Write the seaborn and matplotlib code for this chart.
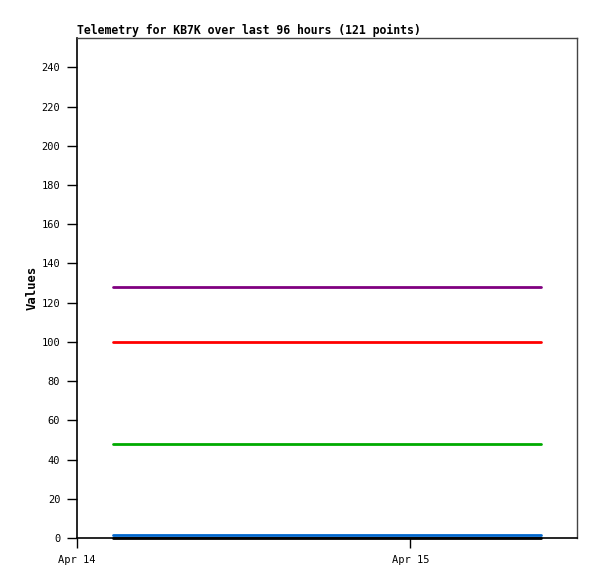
import matplotlib
matplotlib.use("Agg")
import matplotlib.pyplot as plt
import matplotlib.dates as mdates
import seaborn as sns
import pandas as pd

# Data
times = ["2024-04-14 02:36", "2024-04-15 09:24"]
series_names = ["s1", "s2", "s3", "s4", "s5"]
series_values = [[128, 128], [100, 100], [48, 48], [1.7, 1.7], [0, 0]]
series_colors = ["#800080", "#ff0000", "#00aa00", "#0066cc", "#000000"]
title = "Telemetry for KB7K over last 96 hours (121 points)"
ylabel = "Values"

rows = []
for name, vals in zip(series_names, series_values):
    for t, v in zip(times, vals):
        rows.append({"time": pd.Timestamp(t), "value": v, "series": name})
df = pd.DataFrame(rows)

sns.set_style("white")
plt.rcParams["font.family"] = ["DejaVu Sans Mono"]
plt.rcParams["text.color"] = "black"
plt.rcParams["axes.labelcolor"] = "black"

fig = plt.figure(figsize=(5.97, 5.79), dpi=100)
ax = fig.add_axes([77/597, 41/579, 500/597, 500/579])

sns.lineplot(data=df, x="time", y="value", hue="series",
             palette=dict(zip(series_names, series_colors)),
             linewidth=2, legend=False, ax=ax)
for ln in ax.lines:
    ln.set_clip_on(False)
    ln.set_zorder(5)

ax.set_xlim(pd.Timestamp("2024-04-14 00:00"), pd.Timestamp("2024-04-15 12:00"))
ax.set_ylim(0, 255)
ax.set_yticks(range(0, 241, 20))
ax.xaxis.set_major_locator(mdates.DayLocator())
ax.xaxis.set_major_formatter(mdates.DateFormatter("%b %d"))
ax.tick_params(axis="both", direction="out", length=7, width=1, labelsize=7.5,
               colors="black", left=True, bottom=True)
ax.tick_params(axis="y", pad=5)
ax.tick_params(axis="x", pad=5)
ax.set_xlabel("")
ax.set_ylabel(ylabel, fontsize=8.8, fontweight="bold", color="black", labelpad=2)
ax.set_title(title, fontsize=8.3, fontweight="bold", loc="left", pad=3, color="black")

for s in ["left", "bottom"]:
    ax.spines[s].set_color("black")
    ax.spines[s].set_linewidth(1.2)
for s in ["top", "right"]:
    ax.spines[s].set_color("#444444")
    ax.spines[s].set_linewidth(1.0)

fig.savefig("out.png", dpi=100)
